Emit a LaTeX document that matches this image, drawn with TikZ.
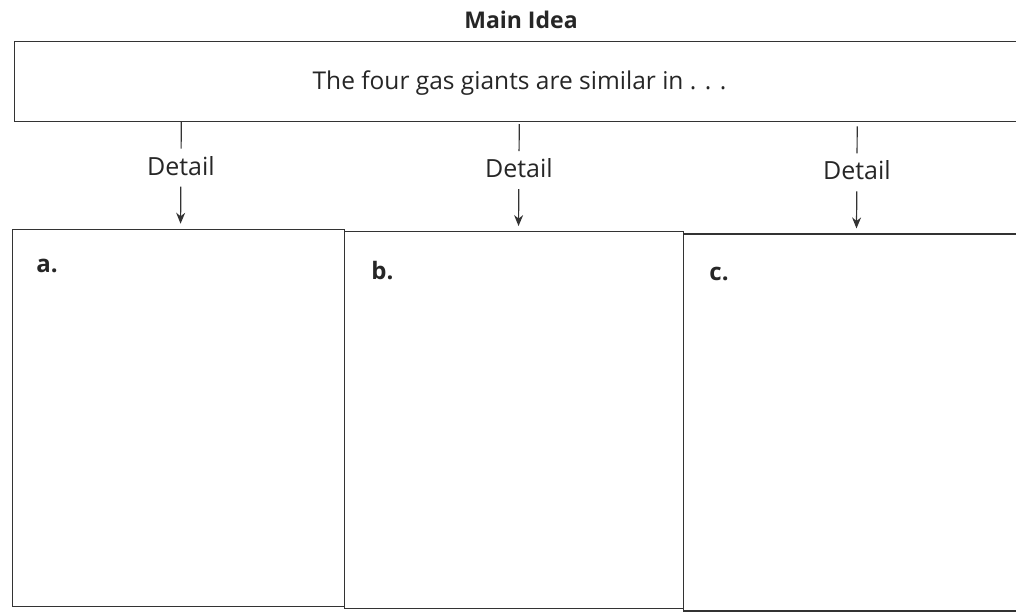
\documentclass[tikz,border=0pt]{standalone}
\usepackage{fontspec}
\setmainfont{Open Sans}
\usetikzlibrary{arrows.meta}
\begin{document}
\begin{tikzpicture}[x=1pt,y=-1pt,
  box/.style={draw=black!80, line width=1.5pt, rectangle, inner sep=0pt, anchor=north west},
  txt/.style={font=\fontsize{24.5}{28}\selectfont, text=black!85, inner sep=0pt},
  dtl/.style={font=\fontsize{25}{28}\selectfont, text=black!85, inner sep=0pt},
  head/.style={font=\fontsize{23}{27}\selectfont\bfseries, text=black!85, inner sep=0pt},
  letter/.style={font=\fontsize{24}{28}\selectfont\bfseries, text=black!85, inner sep=0pt, anchor=west},
  stem/.style={draw=black!80, line width=1.2pt},
  arr/.style={draw=black!80, line width=1.2pt, -{Stealth[length=11pt,width=9pt]}}]
\useasboundingbox (0,0) rectangle (1016,613);
\clip (0,0) rectangle (1016,613);
\begin{scope}[rotate around={-0.4:(508,306)}]
  \node[head] (title) at (519,20) {Main Idea};
  \node[box, minimum width=1040pt, minimum height=80pt] (main) at (12,44) {};
  \node[txt] (mtext) at (518,83) {The four gas giants are similar in . . .};
  % detail boxes
  \node[box, minimum width=332pt, minimum height=377pt] (ba) at (11,232) {};
  \node[box, minimum width=339pt, minimum height=377pt] (bb) at (343,232) {};
  \node[box, minimum width=400pt, minimum height=377pt] (bc) at (682,232) {};
  \node[letter] (la) at (36,269) {a.};
  \node[letter] (lb) at (371,271) {b.};
  \node[letter] (lc) at (709,273) {c.};
  % detail labels
  \foreach \i/\x in {1/180,2/518,3/856}{
    \coordinate (top\i) at (\x,124);
    \node[dtl] (d\i) at (\x,168) {Detail};
    \coordinate (bot\i) at (\x,226);
    \draw[stem] (top\i) -- (\x,151);
    \draw[arr] (\x,189) -- (bot\i);
  }
\end{scope}
\end{tikzpicture}
\end{document}
